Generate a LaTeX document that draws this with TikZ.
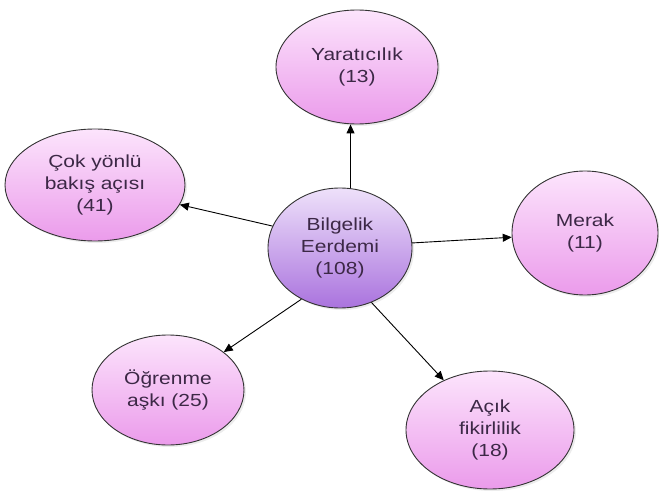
\documentclass[tikz,border=0pt]{standalone}
\usepackage{fontspec}
\usepackage{graphicx}
\setmainfont{Liberation Sans}
\usetikzlibrary{arrows.meta,shapes.geometric,shadows}
\newcommand\wx[1]{\scalebox{1.2}[1]{#1}}
\definecolor{txt}{RGB}{60,40,70}
\tikzset{
  bubble/.style={ellipse, draw=black!80, line width=0.9pt, align=center, inner sep=0pt,
    font=\fontsize{17.5}{22}\selectfont, text=txt,
    shading=axis, shading angle=135, top color=pinkA, bottom color=pinkB,
    drop shadow={opacity=0.15, shadow xshift=2pt, shadow yshift=-2pt}},
  core/.style={bubble, top color=lavA, bottom color=lavB},
  link/.style={-{Triangle[length=9pt,width=8pt]}, line width=0.9pt, black}
}
\definecolor{pinkA}{RGB}{252,228,252}
\definecolor{pinkB}{RGB}{235,155,235}
\definecolor{lavA}{RGB}{238,225,250}
\definecolor{lavB}{RGB}{170,115,222}
\begin{document}
\begin{tikzpicture}[x=1pt,y=-1pt]
\useasboundingbox (0,0) rectangle (659,492);
\node[core, minimum width=144pt, minimum height=120pt] (c) at (340,248) {\wx{Bilgelik}\\\wx{Eerdemi}\\\wx{(108)}};
\node[bubble, minimum width=162pt, minimum height=114pt] (y) at (357,67) {\wx{Yaratıcılık}\\\wx{(13)}};
\node[bubble, minimum width=180pt, minimum height=112pt] (k) at (95,185) {\wx{Çok yönlü}\\\wx{bakış açısı}\\\wx{(41)}};
\node[bubble, minimum width=146pt, minimum height=124pt] (m) at (585,233) {\wx{Merak}\\\wx{(11)}};
\node[bubble, minimum width=152pt, minimum height=110pt] (o) at (168,390) {\wx{Öğrenme}\\\wx{aşkı (25)}};
\node[bubble, minimum width=168pt, minimum height=118pt] (a) at (490,430) {\wx{Açık}\\\wx{fikirlilik}\\\wx{(18)}};
\draw[link] (c.80) -- (y.south -| c.80);
\draw[link] (c.162) -- (k);
\draw[link] (c.4) -- (m);
\draw[link] (c.233) -- (o);
\draw[link] (c.300) -- (a);
\end{tikzpicture}
\end{document}
